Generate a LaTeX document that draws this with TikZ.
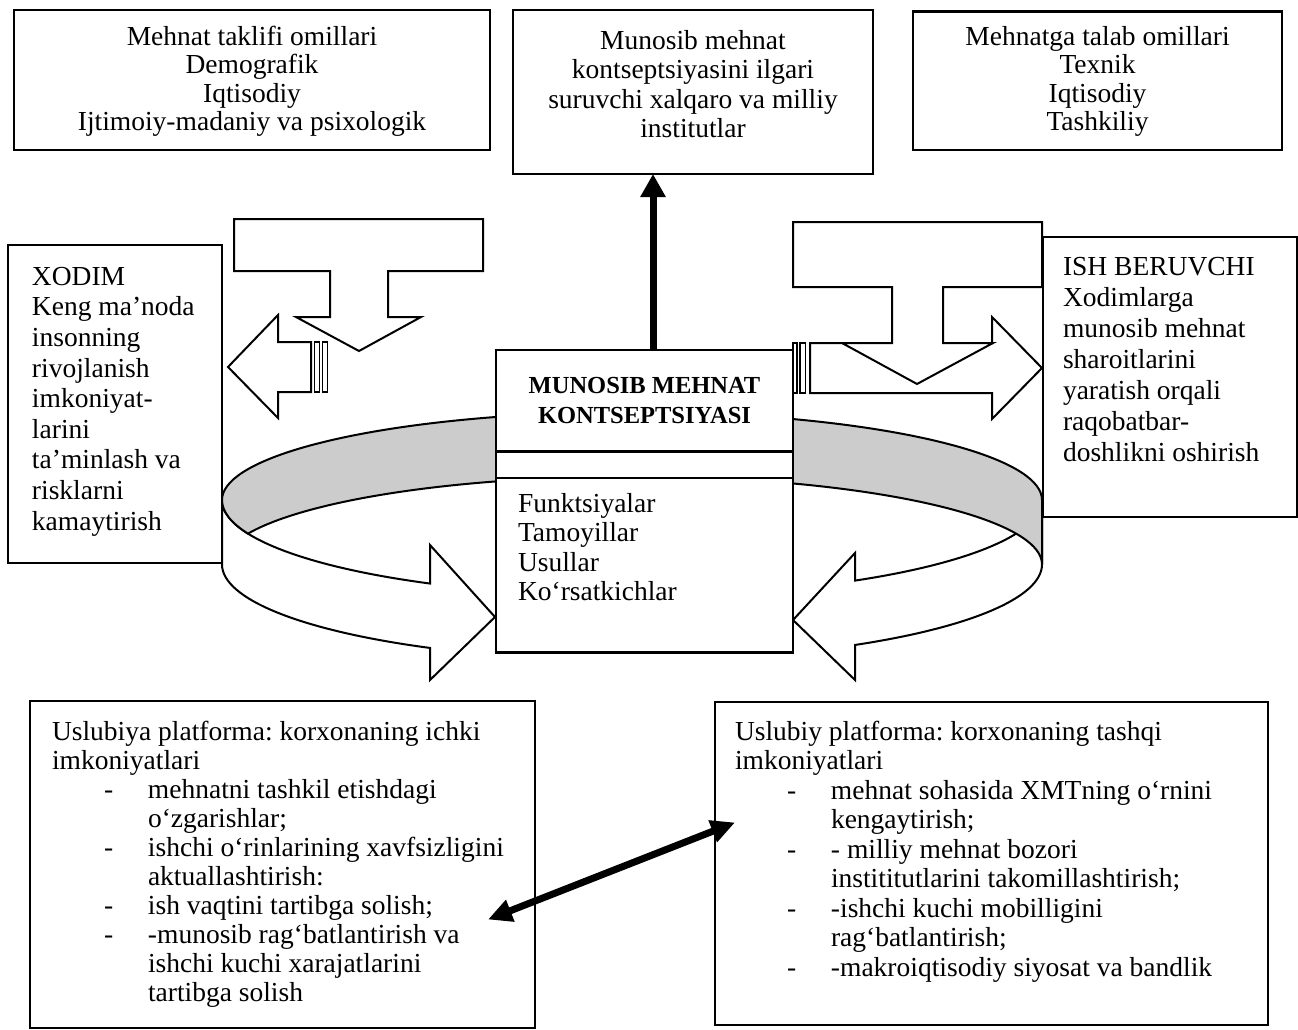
\documentclass[tikz,border=0pt]{standalone}
\usepackage{fontspec}
\setmainfont{Liberation Serif}
\usepackage{tikz}
\usetikzlibrary{positioning,arrows.meta,shapes.multipart}
\frenchspacing
\newcommand{\txt}{\fontsize{27.5}{29.5}\selectfont}
\newcommand{\dashln}[1]{\hspace*{52pt}\makebox[44pt][l]{-}#1}
\newcommand{\contln}[1]{\hspace*{96pt}#1}
\tikzset{
  box/.style={draw, line width=2.5pt, fill=white, inner sep=0pt, outer sep=0pt,
              anchor=north west, font=\txt},
  blk/.style={draw, line width=2pt, fill=white},
  band/.style={draw, line width=2pt, fill=black!20},
  stripe/.style={draw, line width=1.2pt, fill=white},
  push/.style={line width=7pt, -{Triangle[length=23pt, width=24pt]}},
  link/.style={line width=7pt, {Triangle[length=24pt, width=22pt]}-{Triangle[length=24pt, width=22pt]}}
}

\begin{document}
\begin{tikzpicture}[x=1pt, y=-1pt]
  \useasboundingbox (0,0) rectangle (1298,1030);
  \node[box] (supply) at (14,10) {\parbox[c][140pt][t]{476pt}{\fontsize{27.5}{28.5}\selectfont\centering
    \vspace*{16pt}Mehnat taklifi omillari\\Demografik\\Iqtisodiy\\Ijtimoiy-madaniy va psixologik}};
  \node[box] (inst) at (513,10) {\parbox[c][164pt][t]{360pt}{\centering
    \vspace*{20pt}Munosib mehnat\\kontseptsiyasini ilgari\\suruvchi xalqaro va milliy\\institutlar}};
  \node[box] (demand) at (913,11.5) {\parbox[c][138.5pt][t]{369pt}{\fontsize{27.5}{28.5}\selectfont\centering
    \vspace*{14.5pt}Mehnatga talab omillari\\Texnik\\Iqtisodiy\\Tashkiliy}};

  \draw[blk] (222,500) -- (222,564.4) arc[start angle=180, end angle=119.5, x radius=410, y radius=96]
    -- (430,680) -- (495,617) -- (430,545) -- (430.1,583.55)
    arc[start angle=119.5, end angle=180, x radius=410, y radius=96] -- cycle;
  \draw[band] (505.3,416.3) arc[start angle=252, end angle=180, x radius=410, y radius=88]
    arc[start angle=180, end angle=159.5, x radius=410, y radius=96]
    arc[start angle=200.5, end angle=252, x radius=410, y radius=88] -- cycle;
  \draw[blk] (1042,500) -- (1042,564.4) arc[start angle=0, end angle=57.05, x radius=410, y radius=96]
    -- (855,680) -- (793,620) -- (855,553) -- (855,580.6)
    arc[start angle=57.05, end angle=0, x radius=410, y radius=96] -- cycle;
  \draw[band] (758.7,416.3) arc[start angle=288, end angle=360, x radius=410, y radius=88]
    -- (1042,564.4) arc[start angle=360, end angle=288, x radius=410, y radius=88] -- cycle;

  \node[box] (xodim) at (8,245) {\parbox[c][318pt][t]{214pt}{\fontsize{27.5}{30.6}\selectfont\raggedright
    \leftskip=24pt\vspace*{22pt}XODIM\\Keng ma’noda\\insonning\\rivojlanish\\imkoniyat-\\larini\\ta’minlash va\\risklarni\\kamaytirish}};
  \node[box] (employer) at (1043,237) {\parbox[c][280pt][t]{254pt}{\fontsize{27.5}{31}\selectfont\raggedright
    \leftskip=20pt\vspace*{20pt}ISH BERUVCHI\\Xodimlarga\\munosib mehnat\\sharoitlarini\\yaratish orqali\\raqobatbar-\\doshlikni oshirish}};

  \draw[blk] (311,342) -- (278,342) -- (278,315) -- (228,367) -- (278,418) -- (278,392) -- (311,392) -- cycle;
  \draw[stripe] (314.3,342) rectangle (319.3,392);
  \draw[stripe] (322.7,342) rectangle (327.7,392);
  \draw[blk] (234,219) -- (483,219) -- (483,271) -- (388,271) -- (388,317) -- (421,317) -- (359,351)
    -- (296,317) -- (330,317) -- (330,271) -- (234,271) -- cycle;
  \draw[blk] (810,343) -- (992,343) -- (992,317) -- (1042,368) -- (992,419) -- (992,393) -- (810,393) -- cycle;
  \draw[stripe] (793,343) rectangle (797,393);
  \draw[stripe] (800,343) rectangle (805.5,393);
  \draw[blk] (793,222) -- (1042,222) -- (1042,287) -- (943,287) -- (943,343) -- (993,343) -- (917,384)
    -- (842,343) -- (892,343) -- (892,287) -- (793,287) -- cycle;

  \node[box, rectangle split, rectangle split parts=3] (concept) at (496,350)
    {\parbox[c][99pt][c]{297pt}{\centering\fontsize{24.5}{30}\selectfont\bfseries MUNOSIB MEHNAT\\KONTSEPTSIYASI}
     \nodepart{two}\parbox[c][24pt][c]{297pt}{}
     \nodepart{three}\parbox[c][172pt][t]{297pt}{\raggedright\leftskip=22pt
       \vspace*{14pt}Funktsiyalar\\Tamoyillar\\Usullar\\Ko‘rsatkichlar}};

  \node[box] (inner) at (30,701) {\parbox[c][327pt][t]{505pt}{\fontsize{27.5}{29}\selectfont\raggedright
    \leftskip=22pt\vspace*{20pt}Uslubiya platforma: korxonaning ichki\\imkoniyatlari\\
    \dashln{mehnatni tashkil etishdagi}\\\contln{o‘zgarishlar;}\\
    \dashln{ishchi o‘rinlarining xavfsizligini}\\\contln{aktuallashtirish:}\\
    \dashln{ish vaqtini tartibga solish;}\\
    \dashln{-munosib rag‘batlantirish va}\\\contln{ishchi kuchi xarajatlarini}\\\contln{tartibga solish}}};
  \node[box] (outer) at (715,702) {\parbox[c][323pt][t]{553pt}{\raggedright
    \leftskip=20pt\vspace*{19pt}Uslubiy platforma: korxonaning tashqi\\imkoniyatlari\\
    \dashln{mehnat sohasida XMTning o‘rnini}\\\contln{kengaytirish;}\\
    \dashln{- milliy mehnat bozori}\\\contln{instititutlarini takomillashtirish;}\\
    \dashln{-ishchi kuchi mobilligini}\\\contln{rag‘batlantirish;}\\
    \dashln{-makroiqtisodiy siyosat va bandlik}}};

  \draw[push] ([xshift=8.5pt]concept.north) -- ([xshift=8.5pt]concept.north |- inst.south);
  \draw[link] ([shift={(-47,55)}]inner.east) -- ([shift={(20,-41)}]outer.west);
\end{tikzpicture}
\end{document}
